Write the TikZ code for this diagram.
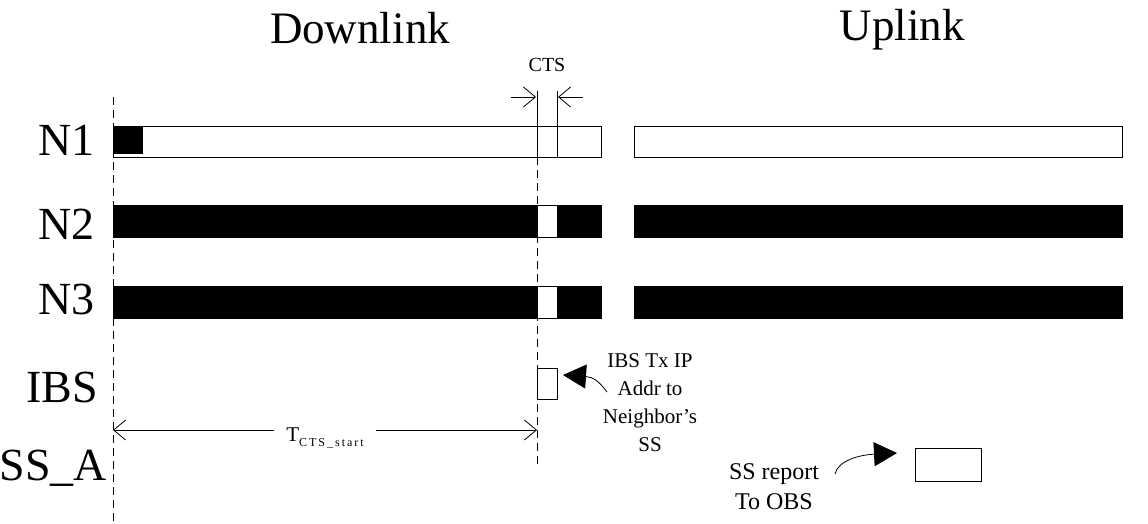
\documentclass[tikz,border=0pt]{standalone}
\usepackage{fontspec}
\setmainfont{Liberation Serif}
\usetikzlibrary{arrows.meta}

\begin{document}
\begin{tikzpicture}[x=1pt, y=-1pt, line width=1pt,
		every node/.style={inner sep=0pt, outer sep=0pt},
		slot/.style={draw, fill=white, anchor=north west, minimum height=31pt},
		dark/.style={draw, fill=black, anchor=north west, minimum height=32pt},
		rowname/.style={anchor=base east, font=\fontsize{46}{46}\selectfont},
		title/.style={anchor=base, font=\fontsize{45}{45}\selectfont},
		guide/.style={dash pattern=on 8pt off 5pt, line width=0.8pt},
		gate/.style={-{Straight Barb[length=12pt,width=20pt]}, line width=0.8pt},
		span/.style={{Straight Barb[length=12pt,width=20pt]}-{Straight Barb[length=12pt,width=20pt]}, line width=0.8pt},
		pointer/.style={-{Triangle[length=23pt,width=24pt]}, line width=0.8pt}]
		\useasboundingbox (0,0) rectangle (1148,523);
		
		\node[title] (dl) at (360,43) {Downlink};
		\node[title] (ul) at (902,40) {Uplink};
		
		\node[rowname] (n1) at (95,155) {N1};
		\node[rowname] (n2) at (95,239) {N2};
		\node[rowname] (n3) at (95,314) {N3};
		\node[rowname] (ibs) at (98,402) {IBS};
		\node[rowname] (ssa) at (107,480) {SS\_A};
		
		% N1
		\node[slot, minimum width=488pt] (n1dl) at (113,126) {};
		\node[dark, minimum width=29pt, minimum height=27pt] (n1mark) at (113,126) {};
		\node[slot, minimum width=488pt] (n1ul) at (634,126) {};
		% N2
		\node[dark, minimum width=488pt] (n2dl) at (113,205) {};
		\node[slot, minimum width=20pt, minimum height=32pt] (n2gap) at (537,205) {};
		\node[dark, minimum width=488pt] (n2ul) at (634,205) {};
		% N3
		\node[dark, minimum width=488pt] (n3dl) at (113,286) {};
		\node[slot, minimum width=20pt, minimum height=32pt] (n3gap) at (537,286) {};
		\node[dark, minimum width=488pt] (n3ul) at (634,286) {};
		% IBS and SS_A
		\node[slot, minimum width=20pt, minimum height=31pt] (ibsbox) at (537,368) {};
		\node[slot, minimum width=66pt, minimum height=33pt] (ssabox) at (915,448) {};
		
		% CTS window
		\node[font=\fontsize{20}{20}\selectfont] (cts) at (547,65) {CTS};
		\coordinate (ctsa) at (537,91);
		\coordinate (ctsb) at (557,91);
		\coordinate (ctsin) at (511,97);
		\coordinate (ctsout) at (583,97);
		\draw (ctsa) -- (ctsa |- n1dl.south);
		\draw (ctsb) -- (ctsb |- n1dl.south);
		\draw[gate] (ctsin) -- ([xshift=-1pt]ctsin -| ctsa);
		\draw[gate] (ctsout) -- ([xshift=1pt]ctsout -| ctsb);
		
		% time lines
		\coordinate (t0) at (113,97);
		\coordinate (t0end) at (113,523);
		\coordinate (t1end) at (537,465);
		\draw[guide] (t0) -- (t0end);
		\draw[guide] (ctsa |- n1dl.south) -- (t1end);
		
		\coordinate (tl) at (113,430);
		\coordinate (tr) at (537,430);
		\draw[span] (tl) -- node[fill=white, inner xsep=12pt, inner ysep=3pt, yshift=-8pt, font=\fontsize{21}{21}\selectfont]
			{T\raisebox{-5pt}{\fontsize{12}{12}\selectfont C\,T\,S\,\_\,s\,t\,a\,r\,t}} (tr);
		
		% notes
		\node[align=center, font=\fontsize{21}{28}\selectfont] (ibsnote) at (650,403) {IBS Tx IP\\Addr to\\Neighbor’s\\SS};
		\coordinate (ibsfrom) at (607,392);
		\coordinate (ibsto) at (563,375);
		\draw[pointer] (ibsfrom) .. controls (599,381) and (593,377) .. (ibsto);
		
		\node[align=center, font=\fontsize{24}{30}\selectfont] (ssnote) at (774,487) {SS report\\To OBS};
		\coordinate (ssfrom) at (835,474);
		\coordinate (ssto) at (897,453);
		\draw[pointer] (ssfrom) .. controls (838,461) and (858,455) .. (ssto);
\end{tikzpicture}
\end{document}
